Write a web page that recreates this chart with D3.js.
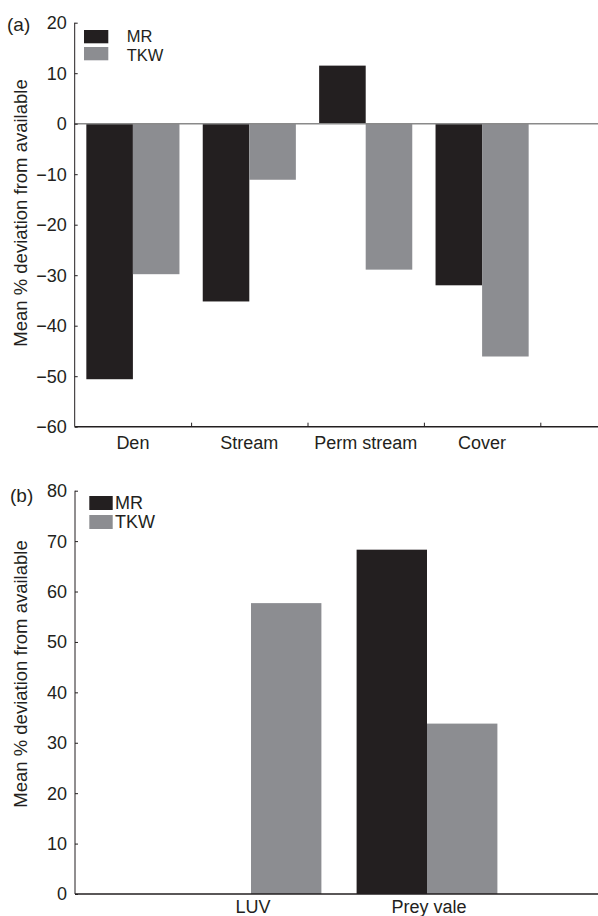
<!DOCTYPE html>
<html>
<head>
<meta charset="utf-8">
<script src="https://cdn.jsdelivr.net/npm/d3@7"></script>
<style>
  html, body { margin: 0; padding: 0; background: #fff; }
  svg { display: block; }
  text { font-family: "Liberation Sans", Arial, Helvetica, sans-serif; fill: #231f20; }
</style>
</head>
<body>
<svg id="chart" width="598" height="916"></svg>
<script>
// ---- Data ----
const seriesNames = ["MR", "TKW"];
const categoriesA = ["Den", "Stream", "Perm stream", "Cover"];
const mrA = [-50.6, -35.2, 11.5, -32.0];
const tkwA = [-29.8, -11.1, -28.9, -46.1];
const yTicksA = [-60, -50, -40, -30, -20, -10, 0, 10, 20];

const categoriesB = ["LUV", "Prey vale"];
const mrB = [0, 68.3];
const tkwB = [57.7, 33.8];
const yTicksB = [0, 10, 20, 30, 40, 50, 60, 70, 80];

const yLabel = "Mean % deviation from available";

// ---- Styles ----
const colMR = "#231f20";
const colTKW = "#8c8d91";
const axisCol = "#231f20";
const fs = 18;

const svg = d3.select("#chart");
const fmt = v => (v < 0 ? "\u2212" + Math.abs(v) : String(v));

function panel(opts) {
  const g = svg.append("g");
  const x = d3.scaleLinear().domain(opts.xDomain).range([opts.x0, 598]);
  const y = d3.scaleLinear().domain(opts.yDomain).range([opts.yBottom, opts.yTop]);
  const bw = 0.4;
  const data = opts.categories.map((c, i) => ({c, i: i + 1, mr: opts.mr[i], tkw: opts.tkw[i]}));

  // bars
  data.forEach(d => {
    [[d.mr, d.i - bw, colMR], [d.tkw, d.i, colTKW]].forEach(([v, xs, col]) => {
      if (v === 0) return;
      g.append("rect")
        .attr("x", x(xs))
        .attr("width", x(xs + bw) - x(xs))
        .attr("y", y(Math.max(0, v)))
        .attr("height", Math.abs(y(v) - y(0)))
        .attr("fill", col);
    });
  });

  // zero line (panel a)
  if (opts.zeroLine) {
    g.append("line")
      .attr("x1", opts.x0).attr("x2", 598)
      .attr("y1", y(0)).attr("y2", y(0))
      .attr("stroke", "#8a8a8a").attr("stroke-width", 1.5);
  }

  // y axis
  const yAxis = d3.axisRight(y).tickValues(opts.yTicks).tickSize(3).tickPadding(0).tickFormat(fmt);
  const ya = g.append("g").attr("transform", `translate(${opts.x0},0)`).call(yAxis);
  ya.select(".domain").attr("stroke", axisCol).attr("stroke-width", 1).attr("d", `M0,${opts.yTop}V${opts.yBottom}`);
  ya.selectAll(".tick line").attr("stroke", axisCol);
  ya.selectAll(".tick text")
    .attr("x", -8).attr("dy", "0.33em")
    .attr("text-anchor", "end")
    .style("font-size", fs + "px")
    .style("font-family", "'Liberation Sans', Arial, sans-serif")
    .attr("fill", "#231f20");

  // x axis
  const xAxis = d3.axisTop(x).tickValues(opts.xTicks).tickSize(opts.xTicks.length ? 4 : 0).tickFormat("");
  const xa = g.append("g").attr("transform", `translate(0,${opts.yBottom})`).call(xAxis);
  xa.select(".domain").attr("stroke", axisCol).attr("stroke-width", 1.5)
    .attr("d", `M${opts.x0},0H598`);
  xa.selectAll(".tick line").attr("stroke", axisCol);

  // category labels
  g.selectAll("text.cat").data(data).enter().append("text")
    .attr("class", "cat")
    .attr("x", d => x(d.i) + (opts.labelShift || 0))
    .attr("y", opts.yBottom + opts.labelDy)
    .attr("text-anchor", "middle")
    .style("font-size", fs + "px")
    .text(d => d.c);

  // y label
  g.append("text")
    .attr("transform", `translate(26.5,${opts.yLabelCenter}) rotate(-90)`)
    .attr("text-anchor", "middle")
    .style("font-size", "18.5px")
    .text(yLabel);

  // panel letter
  g.append("text")
    .attr("x", opts.letterX).attr("y", opts.letterY)
    .style("font-size", "19px")
    .text(opts.letter);

  // legend
  const lg = opts.legend;
  seriesNames.forEach((s, k) => {
    g.append("rect")
      .attr("x", lg.x).attr("y", lg.y + k * lg.step)
      .attr("width", lg.w).attr("height", lg.h)
      .attr("fill", k === 0 ? colMR : colTKW);
    const cy = lg.y + lg.step / 2 + lg.h / 2 + (k - 0.5) * lg.tstep;
    g.append("text")
      .attr("x", lg.tx).attr("y", cy)
      .attr("dy", "0.36em")
      .style("font-size", lg.fs + "px")
      .text(s);
  });
}

// Panel (a)
panel({
  x0: 74.7,
  xDomain: [0.5, 0.5 + (598 - 74.7) / 116.4],
  yDomain: [-60, 20],
  yBottom: 426.7, yTop: 22.7,
  categories: categoriesA, mr: mrA, tkw: tkwA,
  yTicks: yTicksA,
  xTicks: [1.5, 2.5, 3.5, 4.5],
  zeroLine: true,
  labelDy: 22,
  yLabelCenter: 213,
  letter: "(a)", letterX: 7, letterY: 31,
  legend: {x: 84, y: 30, w: 24.3, h: 13.3, step: 17, tstep: 19, tx: 126.7, fs: 16.5}
});

// Panel (b)
panel({
  x0: 75,
  xDomain: [0, (598 - 75) / 176],
  yDomain: [0, 80],
  yBottom: 894, yTop: 490.7,
  categories: categoriesB, mr: mrB, tkw: tkwB,
  yTicks: yTicksB,
  xTicks: [],
  zeroLine: false,
  labelDy: 19,
  labelShift: 2,
  yLabelCenter: 674,
  letter: "(b)", letterX: 10, letterY: 502,
  legend: {x: 89.3, y: 496, w: 23.4, h: 14, step: 19, tstep: 19, tx: 115, fs: 18}
});
</script>
</body>
</html>
